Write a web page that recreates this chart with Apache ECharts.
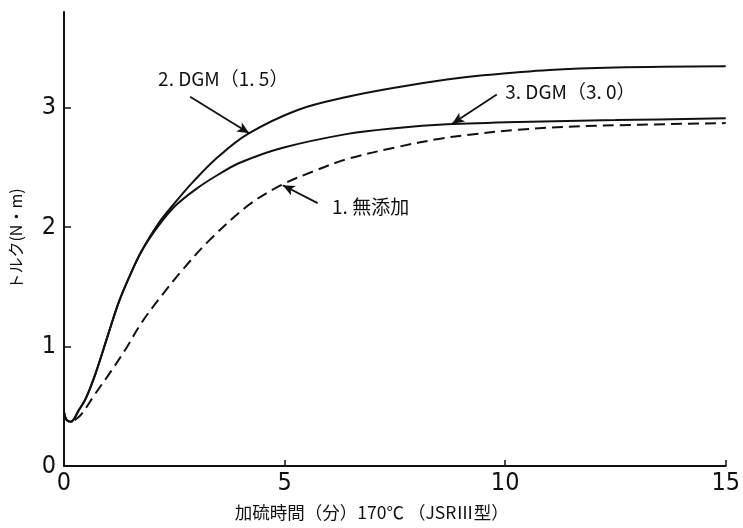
<!DOCTYPE html>
<html>
<head>
<meta charset="utf-8">
<script src="https://cdn.jsdelivr.net/npm/echarts@6/dist/echarts.min.js"></script>
<style>
  html, body { margin: 0; padding: 0; background: #fff; }
  #chart { width: 743px; height: 528px; }
</style>
</head>
<body>
<div id="chart"></div>
<script>
// Cure curves: torque (N·m) against cure time (min) at 170 °C, JSR type III curemeter
const noAdditive = [
  [0, 0.45], [0.05, 0.39], [0.15, 0.37], [0.3, 0.40], [0.41, 0.44], [0.7, 0.6],
  [1.08, 0.8], [1.4, 0.98], [1.76, 1.2], [2.2, 1.42], [2.66, 1.63], [3.27, 1.88],
  [4.17, 2.18], [4.92, 2.35], [5.68, 2.47], [6.43, 2.57], [7.56, 2.67], [8.53, 2.74],
  [9.14, 2.77], [10.3, 2.815], [11.8, 2.845], [15, 2.87]
];
const dgm15 = [
  [0, 0.45], [0.05, 0.39], [0.15, 0.37], [0.34, 0.47], [0.5, 0.57], [0.72, 0.78],
  [1.0, 1.1], [1.24, 1.37], [1.5, 1.6], [1.76, 1.8], [2.14, 2.03], [2.53, 2.21],
  [2.93, 2.38], [3.5, 2.59], [4.17, 2.78], [5.3, 2.98], [6.43, 3.09], [7.56, 3.17],
  [8.68, 3.235], [9.5, 3.27], [11.0, 3.315], [12.5, 3.335], [15, 3.345]
];
const dgm30 = [
  [0, 0.45], [0.05, 0.39], [0.15, 0.37], [0.34, 0.47], [0.5, 0.57], [0.72, 0.78],
  [1.0, 1.1], [1.24, 1.37], [1.5, 1.6], [1.76, 1.8], [2.14, 2.01], [2.53, 2.18],
  [3.0, 2.32], [3.5, 2.44], [4.0, 2.54], [4.92, 2.66], [6.43, 2.78], [7.56, 2.83],
  [8.68, 2.86], [10.3, 2.88], [12.5, 2.895], [15, 2.91]
];
const seriesNames = ['1. 無添加', '2. DGM（1. 5）', '3. DGM（3. 0）'];
const xTickLabels = [0, 5, 10, 15];
const yTickLabels = [0, 1, 2, 3];

// Callouts: label anchor, arrow tail, arrow head (data space)
const callouts = [
  { text: seriesNames[0], at: [6.95, 2.17], from: [5.75, 2.2], to: [4.96, 2.35] },
  { text: seriesNames[1], at: [3.61, 3.24], from: [2.86, 3.09], to: [4.2, 2.785] },
  { text: seriesNames[2], at: [11.48, 3.13], from: [9.81, 3.11], to: [8.8, 2.865] }
];

const numFont = '"DejaVu Sans Condensed", "Liberation Sans Narrow", sans-serif';
const cjkFont = '"Noto Sans CJK JP", "Noto Sans", sans-serif';

const chart = echarts.init(document.getElementById('chart'), null, { renderer: 'canvas' });

function curve(name, data, dashed, extra) {
  return Object.assign({
    name: name,
    type: 'line',
    data: data,
    smooth: 0.35,
    showSymbol: false,
    symbol: 'none',
    animation: false,
    lineStyle: { color: '#111', width: 2, type: dashed ? [11, 6] : 'solid' },
    z: 3
  }, extra || {});
}

const arrowLines = callouts.map(c => [
  { coord: c.from, symbol: 'none' },
  { coord: c.to, symbol: 'arrow' }
]);
const calloutTexts = callouts.map(c => ({
  coord: c.at,
  value: 0,
  symbol: 'circle',
  symbolSize: 1,
  itemStyle: { color: 'rgba(0,0,0,0)' },
  label: {
    show: true,
    formatter: c.text,
    color: '#111',
    fontSize: 19,
    fontFamily: cjkFont,
    position: 'inside'
  }
}));

chart.setOption({
  backgroundColor: '#fff',
  animation: false,
  grid: { left: 64, right: 13, top: 12, bottom: 62, containLabel: false },
  xAxis: {
    type: 'value',
    min: 0, max: 15, interval: 5,
    axisLine: { show: true, lineStyle: { color: '#111', width: 2 } },
    axisTick: { show: true, inside: true, length: 6, customValues: [5, 10, 15], lineStyle: { color: '#111', width: 1.5 } },
    axisLabel: { customValues: xTickLabels, color: '#111', fontSize: 25, fontFamily: numFont, margin: 5 },
    splitLine: { show: false },
    name: '加硫時間（分）170℃ （JSRⅢ型）',
    nameLocation: 'middle',
    nameGap: 38,
    nameTextStyle: { color: '#111', fontSize: 17.5, fontFamily: cjkFont, padding: [0, 46, 0, 0] }
  },
  yAxis: {
    type: 'value',
    min: 0, max: 3.8, interval: 1,
    axisLine: { show: true, lineStyle: { color: '#111', width: 2 } },
    axisTick: { show: true, inside: true, length: 7, customValues: [1, 2, 3], lineStyle: { color: '#111', width: 1.5 } },
    axisLabel: { customValues: yTickLabels, color: '#111', fontSize: 25, fontFamily: numFont, margin: 8 },
    splitLine: { show: false },
    name: 'トルク(N・m)',
    nameLocation: 'middle',
    nameRotate: 90,
    nameGap: 40,
    nameTextStyle: { color: '#111', fontSize: 16, fontFamily: cjkFont }
  },
  series: [
    curve(seriesNames[0], noAdditive, true, {
      markLine: {
        silent: true,
        animation: false,
        symbolSize: [8, 12],
        label: { show: false },
        lineStyle: { color: '#111', width: 1.8, type: 'solid' },
        data: arrowLines
      },
      markPoint: {
        silent: true,
        animation: false,
        data: calloutTexts
      }
    }),
    curve(seriesNames[1], dgm15, false),
    curve(seriesNames[2], dgm30, false)
  ]
});
</script>
</body>
</html>
